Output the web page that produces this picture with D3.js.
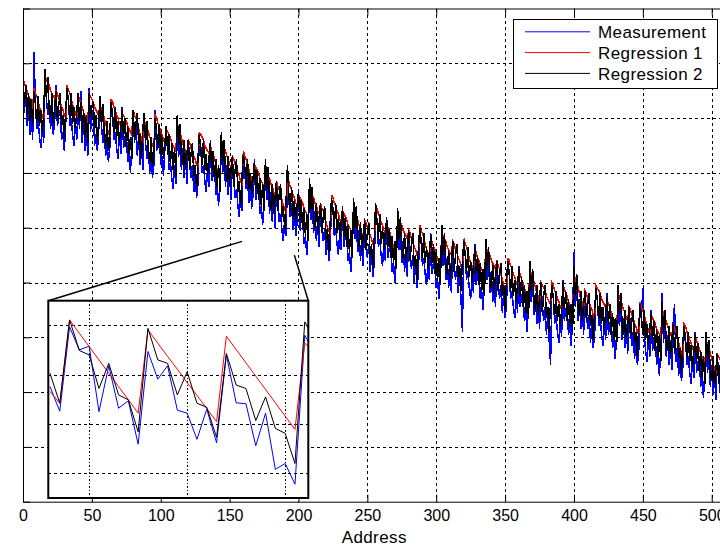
<!DOCTYPE html>
<html>
<head>
<meta charset="utf-8">
<script src="https://cdn.jsdelivr.net/npm/d3@7"></script>
<style>
body { margin: 0; background: #fff; }
text { font-family: "Liberation Sans", Arial, sans-serif; fill: #000; }
</style>
</head>
<body>
<div id="chart"></div>
<script>

// Main series, one value per address (8 addresses per line)
var measurement = [
	151,142,149,137,145,134,143,132, 164,146,136,139,133,129,138,131,
	155,147,141,146,136,144,134,139, 152,137,141,143,132,135,128,138,
	150,147,137,140,134,130,139,132, 145,136,150,131,139,128,137,126,
	151,135,141,143,130,134,128,136, 145,137,131,136,126,132,124,129,
	145,142,132,135,129,125,134,127, 144,129,133,135,124,127,120,130,
	140,131,138,126,134,123,132,121, 139,131,125,130,120,128,118,123,
	143,128,132,134,123,126,119,129, 134,131,121,124,118,114,123,116,
	135,126,133,121,129,118,127,116, 132,124,118,123,113,121,111,116,
	133,130,120,123,117,113,122,115, 132,117,121,123,112,115,108,118,
	129,120,127,115,123,112,121,110, 124,121,111,114,108,104,113,106,
	128,120,114,119,109,117,107,112, 125,110,114,116,105,108,101,111,
	119,110,117,105,113,102,111,100, 115,112,102,105,99,95,104,97,
	118,110,104,109,99,107,97,102,   114,99,103,105,94,97,90,100,
	112,103,110,98,106,95,104,93,    109,101,95,100,90,98,88,93,
	110,107,97,100,94,90,99,92,      108,93,97,99,88,91,84,94,
	105,96,103,91,99,88,97,86,       103,95,89,94,84,92,82,87,
	106,103,93,96,90,86,95,88,       104,89,93,95,84,87,80,90,
	101,92,99,87,95,84,93,82,        99,91,85,90,80,88,78,83,
	99,96,86,89,83,79,88,81,         98,83,87,89,78,81,74,84,
	95,86,93,81,89,78,87,76,         95,87,81,86,76,84,74,62,
	94,91,81,84,78,74,83,76,         94,79,83,85,74,77,70,80,
	90,81,88,76,84,73,82,71,         88,80,74,79,69,77,67,72,
	87,84,74,77,71,67,76,69,         86,71,75,77,66,69,62,72,
	82,73,80,68,76,65,74,63,         80,72,66,71,61,69,59,50,
	78,75,65,68,62,58,67,60,         81,66,70,72,61,64,57,67,
	91,71,78,66,74,63,72,61,         77,69,63,68,58,66,56,61,
	77,74,64,67,61,57,66,59,         76,61,65,67,56,59,52,62,
	73,64,71,59,67,56,65,54,         71,63,57,62,52,60,50,55,
	71,68,78,61,55,51,60,53,         70,55,59,61,50,53,46,56,
	76,58,65,53,61,50,59,48,         65,72,51,56,46,54,44,49,
	63,60,50,53,47,43,52,45,         62,47,51,53,42,45,38,48,
	56,47,54,42,50,39,48,37,         54,46,40,45,35,43,33,38
];

var regression1 = [
	154,153,151,150,148,147,145,144, 151,149,148,146,144,142,141,139,
	155,154,153,152,150,149,148,147, 150,149,147,146,144,143,141,140,
	152,150,149,147,145,143,142,140, 148,147,145,144,142,141,139,138,
	149,148,147,146,144,143,142,141, 145,143,142,140,138,136,135,133,
	147,146,144,143,141,140,138,137, 142,141,140,139,137,136,135,134,
	143,141,140,138,136,134,133,131, 139,138,136,135,133,132,130,129,
	141,140,138,137,135,134,132,131, 136,135,134,133,131,130,129,128,
	138,136,135,133,131,129,128,126, 132,131,129,128,126,125,123,122,
	135,134,133,132,130,129,128,127, 130,128,127,125,123,121,120,118,
	132,131,129,128,126,125,123,122, 126,125,123,122,120,119,117,116,
	128,126,125,123,121,119,118,116, 123,122,121,120,118,117,116,115,
	122,121,119,118,116,115,113,112, 117,115,114,112,110,108,107,105,
	118,117,115,114,112,111,109,108, 112,111,110,109,107,106,105,104,
	115,114,112,111,109,108,106,105, 109,107,106,104,102,100,99,97,
	112,111,109,108,106,105,103,102, 106,105,104,103,101,100,99,98,
	108,106,105,103,101,99,98,96,    103,102,100,99,97,96,94,93,
	108,107,105,104,102,101,99,98,   102,100,99,97,95,93,92,90,
	104,103,102,101,99,98,97,96,     99,98,96,95,93,92,90,89,
	101,99,98,96,94,92,91,89,        96,95,93,92,90,89,87,86,
	98,97,96,95,93,92,91,90,         95,94,92,91,89,88,86,85,
	96,94,93,91,89,87,86,84,         92,91,89,88,86,85,83,82,
	93,92,91,90,88,87,86,85,         88,86,85,83,81,79,78,76,
	89,88,86,85,83,82,80,79,         84,83,81,80,78,77,75,74,
	85,83,82,80,78,76,75,73,         80,79,78,77,75,74,73,72,
	80,79,77,76,74,73,71,70,         79,78,76,75,73,72,70,69,
	83,81,80,78,76,74,73,71,         77,76,74,73,71,70,68,67,
	79,78,77,76,74,73,72,71,         74,72,71,69,67,65,64,62,
	76,75,73,72,70,69,67,66,         71,70,68,67,65,64,62,61,
	73,71,70,68,66,64,63,61,         68,67,66,65,63,62,61,60,
	70,69,67,66,64,63,61,60,         65,63,62,60,58,56,55,53,
	65,64,62,61,59,58,56,55,         60,59,57,56,54,53,51,50,
	59,57,56,54,52,50,49,47,         54,53,52,51,49,48,47,46
];

var regression2 = [
	155,145,152,141,149,139,147,137, 150,145,139,148,137,143,135,141,
	158,147,155,143,140,149,138,144, 150,139,145,149,137,141,132,143,
	151,146,140,149,138,144,136,142, 149,139,146,135,143,133,141,131,
	149,140,144,146,136,141,131,140, 148,137,145,135,130,139,128,134,
	146,141,135,144,133,139,131,137, 143,133,140,129,137,127,133,125,
	143,132,138,142,130,134,125,136, 142,131,139,127,124,133,122,128,
	140,135,129,138,127,133,125,131, 137,127,134,123,131,121,129,119,
	141,130,138,126,123,132,121,127, 132,121,127,131,119,123,114,125,
	134,129,123,132,121,127,119,125, 131,121,128,117,125,115,123,113,
	135,124,132,120,117,126,115,121, 126,115,121,125,113,117,108,119,
	127,122,116,125,114,120,112,118, 124,114,121,110,118,108,116,106,
	125,114,122,110,107,116,105,111, 117,106,112,116,104,108,99,110,
	123,112,106,115,104,110,102,108, 113,103,110,99,107,97,105,95,
	118,107,115,103,100,109,98,104,  109,98,104,108,96,100,91,102,
	111,106,100,109,98,104,96,102,   107,97,104,93,101,91,99,89,
	111,100,108,96,93,102,91,97,     103,92,98,102,90,94,85,96,
	109,102,96,105,94,100,92,98,     103,93,100,89,97,87,95,85,
	107,96,104,92,89,98,87,93,       99,88,94,98,86,90,81,92,
	100,95,89,98,87,93,85,91,        97,87,94,83,91,81,89,79,
	101,90,98,86,83,92,81,87,        95,84,90,94,82,86,77,88,
	95,90,84,93,82,88,80,86,         93,83,90,79,87,77,85,75,
	96,85,93,81,78,87,76,82,         88,77,83,87,75,79,70,81,
	88,83,77,86,75,81,73,79,         85,75,82,71,79,69,77,67,
	88,77,85,73,70,79,68,74,         80,69,75,79,67,71,62,73,
	79,74,68,77,66,72,64,70,         80,70,77,66,74,64,72,62,
	86,75,83,71,68,77,66,72,         77,66,72,76,64,68,59,70,
	78,73,67,76,65,71,63,69,         75,65,72,61,69,59,67,57,
	79,68,76,64,61,70,59,65,         71,60,66,70,58,62,53,64,
	72,67,61,70,59,65,57,63,         69,59,66,55,63,53,61,51,
	73,62,70,58,55,64,53,59,         65,54,60,64,52,56,47,58,
	64,59,53,62,51,57,49,55,         61,51,58,47,55,45,53,43,
	62,51,59,47,44,53,42,48,         54,43,49,53,41,45,36,47
];

// Zoomed-in detail (inset), addresses 160 .. 187
var insetStart = 160;
var insetMeasurement = [2.76,2.26,3.97,3.50,3.58,2.25,3.18,2.32,2.47,1.59,3.47,2.91,3.18,2.28,
	2.22,1.69,2.30,1.62,3.40,2.43,2.41,1.56,2.22,1.08,1.20,0.78,3.80,3.44];
var insetRegression1 = [2.66,2.42,4.11,3.84,3.57,3.30,3.03,2.76,2.49,2.22,3.91,3.64,3.37,3.11,
	2.84,2.58,2.31,2.05,3.78,3.51,3.24,2.97,2.70,2.43,2.16,1.89,3.64,3.45];
var insetRegression2 = [3.03,2.42,4.11,3.49,3.40,2.72,3.23,2.59,2.49,1.84,3.94,3.30,3.23,2.59,
	3.06,2.42,2.34,1.73,3.43,2.79,2.72,2.07,2.55,1.91,1.81,1.20,4.07,3.71];

var xTicks = [0,50,100,150,200,250,300,350,400,450,500];
var yTicks = [0,20,40,60,80,100,120,140,160,180];
var insetXGrid = [164,174,184];
var insetYGrid = [1,2,3,4];

var seriesNames = ["Measurement", "Regression 1", "Regression 2"];
var seriesColors = ["#0000ff", "#ff0000", "#000000"];

// where the inset is taken from, in data units
var zoomLeft = [159, 95],
	zoomRight = [197, 90];

var width = 720,
	height = 546;

var svg = d3.select("#chart")
	.append("svg")
	.attr("width", width)
	.attr("height", height);

svg.append("rect")
	.attr("width", width)
	.attr("height", height)
	.attr("fill", "#fff");

var x = d3.scaleLinear().domain([0, 510]).range([23, 725.5]);
var y = d3.scaleLinear().domain([0, 180]).range([501.7, 8.5]);

svg.append("clipPath").attr("id", "plotclip")
	.append("rect")
	.attr("x", x(0)).attr("y", y(180))
	.attr("width", x(510) - x(0)).attr("height", y(0) - y(180));

// grid
var grid = svg.append("g").attr("stroke", "#000").attr("stroke-dasharray", "3,3")
	.attr("shape-rendering", "crispEdges");

grid.selectAll(".vg")
	.data(xTicks.filter(function(d){ return d > 0; }))
	.enter()
	.append("line")
	.attr("x1", function(d){ return Math.round(x(d)) + 0.5; })
	.attr("x2", function(d){ return Math.round(x(d)) + 0.5; })
	.attr("y1", y(180))
	.attr("y2", y(0));

grid.selectAll(".hg")
	.data(yTicks.filter(function(d){ return d > 0 && d < 180; }))
	.enter()
	.append("line")
	.attr("y1", function(d){ return Math.round(y(d)) + 0.5; })
	.attr("y2", function(d){ return Math.round(y(d)) + 0.5; })
	.attr("x1", x(0))
	.attr("x2", x(510));

// series
var series = [measurement, regression1, regression2];

var line = d3.line()
	.x(function(d, i){ return x(i); })
	.y(function(d){ return y(d); });

svg.append("g")
	.attr("clip-path", "url(#plotclip)")
	.selectAll("path")
	.data(series)
	.enter()
	.append("path")
	.attr("fill", "none")
	.attr("stroke", function(d, i){ return seriesColors[i]; })
	.attr("stroke-width", 1.5)
	.attr("shape-rendering", "crispEdges")
	.attr("d", line);

// axes, ticks pointing inward
var xAxis = svg.append("g")
	.attr("transform", "translate(0," + y(0) + ")")
	.call(d3.axisBottom(x).tickValues(xTicks).tickSize(-7).tickSizeOuter(0).tickPadding(7.5));

var xTop = svg.append("g")
	.attr("transform", "translate(0," + y(180) + ")")
	.call(d3.axisTop(x).tickValues(xTicks).tickSize(-7).tickSizeOuter(0).tickFormat(""));

var yAxis = svg.append("g")
	.attr("transform", "translate(" + x(0) + ",0)")
	.call(d3.axisLeft(y).tickValues(yTicks).tickSize(-7).tickSizeOuter(0).tickFormat(""));

svg.selectAll(".tick text")
	.attr("font-family", "Liberation Sans, Arial, sans-serif")
	.attr("font-size", 16);

svg.selectAll(".domain, .tick line").attr("stroke", "#000");

svg.append("text")
	.attr("x", x(255))
	.attr("y", 543)
	.attr("text-anchor", "middle")
	.attr("font-size", 17)
	.attr("letter-spacing", 0.4)
	.text("Address");

// legend
var legend = svg.append("g");

legend.append("rect")
	.attr("x", 513.5).attr("y", 19.5)
	.attr("width", 204).attr("height", 69)
	.attr("fill", "#fff").attr("stroke", "#000");

var row = legend.selectAll(".row")
	.data(seriesNames)
	.enter()
	.append("g")
	.attr("transform", function(d, i){ return "translate(0," + (31.8 + i * 20.8) + ")"; });

row.append("line")
	.attr("x1", 525).attr("x2", 590)
	.attr("stroke", function(d, i){ return seriesColors[i]; });

row.append("text")
	.attr("x", 598)
	.attr("y", 6.3)
	.attr("font-size", 17)
	.attr("letter-spacing", 0.4)
	.text(function(d){ return d; });

// inset
var ix = d3.scaleLinear().domain([159.83, 186.36]).range([48.3, 308.3]);
var iy = d3.scaleLinear().domain([0.5, 4.5]).range([498, 300.7]);

svg.append("g").attr("stroke", "#000").attr("stroke-width", 1.5)
	.selectAll("line")
	.data([[zoomLeft, ix.range()[0]], [zoomRight, ix.range()[1]]])
	.enter()
	.append("line")
	.attr("x1", function(d){ return x(d[0][0]); })
	.attr("y1", function(d){ return y(d[0][1]); })
	.attr("x2", function(d){ return d[1]; })
	.attr("y2", iy.range()[1]);

var inset = svg.append("g");

inset.append("clipPath").attr("id", "insetclip")
	.append("rect")
	.attr("x", 48.3).attr("y", 300.7)
	.attr("width", 260).attr("height", 197.3);

inset.append("rect")
	.attr("x", 48.3).attr("y", 300.7)
	.attr("width", 260).attr("height", 197.3)
	.attr("fill", "#fff");

inset.selectAll(".ivg")
	.data(insetXGrid)
	.enter()
	.append("line")
	.attr("x1", function(d){ return Math.round(ix(d)) + 0.5; })
	.attr("x2", function(d){ return Math.round(ix(d)) + 0.5; })
	.attr("y1", 300.7).attr("y2", 498)
	.attr("stroke", "#000")
	.attr("stroke-dasharray", "1.5,2")
	.attr("shape-rendering", "crispEdges");

inset.selectAll(".ihg")
	.data(insetYGrid)
	.enter()
	.append("line")
	.attr("y1", function(d){ return Math.round(iy(d)) + 0.5; })
	.attr("y2", function(d){ return Math.round(iy(d)) + 0.5; })
	.attr("x1", 48.3).attr("x2", 308.3)
	.attr("stroke", "#000")
	.attr("stroke-dasharray", "3,3")
	.attr("shape-rendering", "crispEdges");

var insetLine = d3.line()
	.x(function(d, i){ return ix(insetStart + i); })
	.y(function(d){ return iy(d); });

inset.append("g")
	.attr("clip-path", "url(#insetclip)")
	.selectAll("path")
	.data([insetMeasurement, insetRegression1, insetRegression2])
	.enter()
	.append("path")
	.attr("fill", "none")
	.attr("stroke", function(d, i){ return seriesColors[i]; })
	.attr("stroke-width", 1)
	.attr("d", insetLine);

inset.append("rect")
	.attr("x", 48.3).attr("y", 300.7)
	.attr("width", 260).attr("height", 197.3)
	.attr("fill", "none")
	.attr("stroke", "#000")
	.attr("stroke-width", 2);

</script>
</body>
</html>
